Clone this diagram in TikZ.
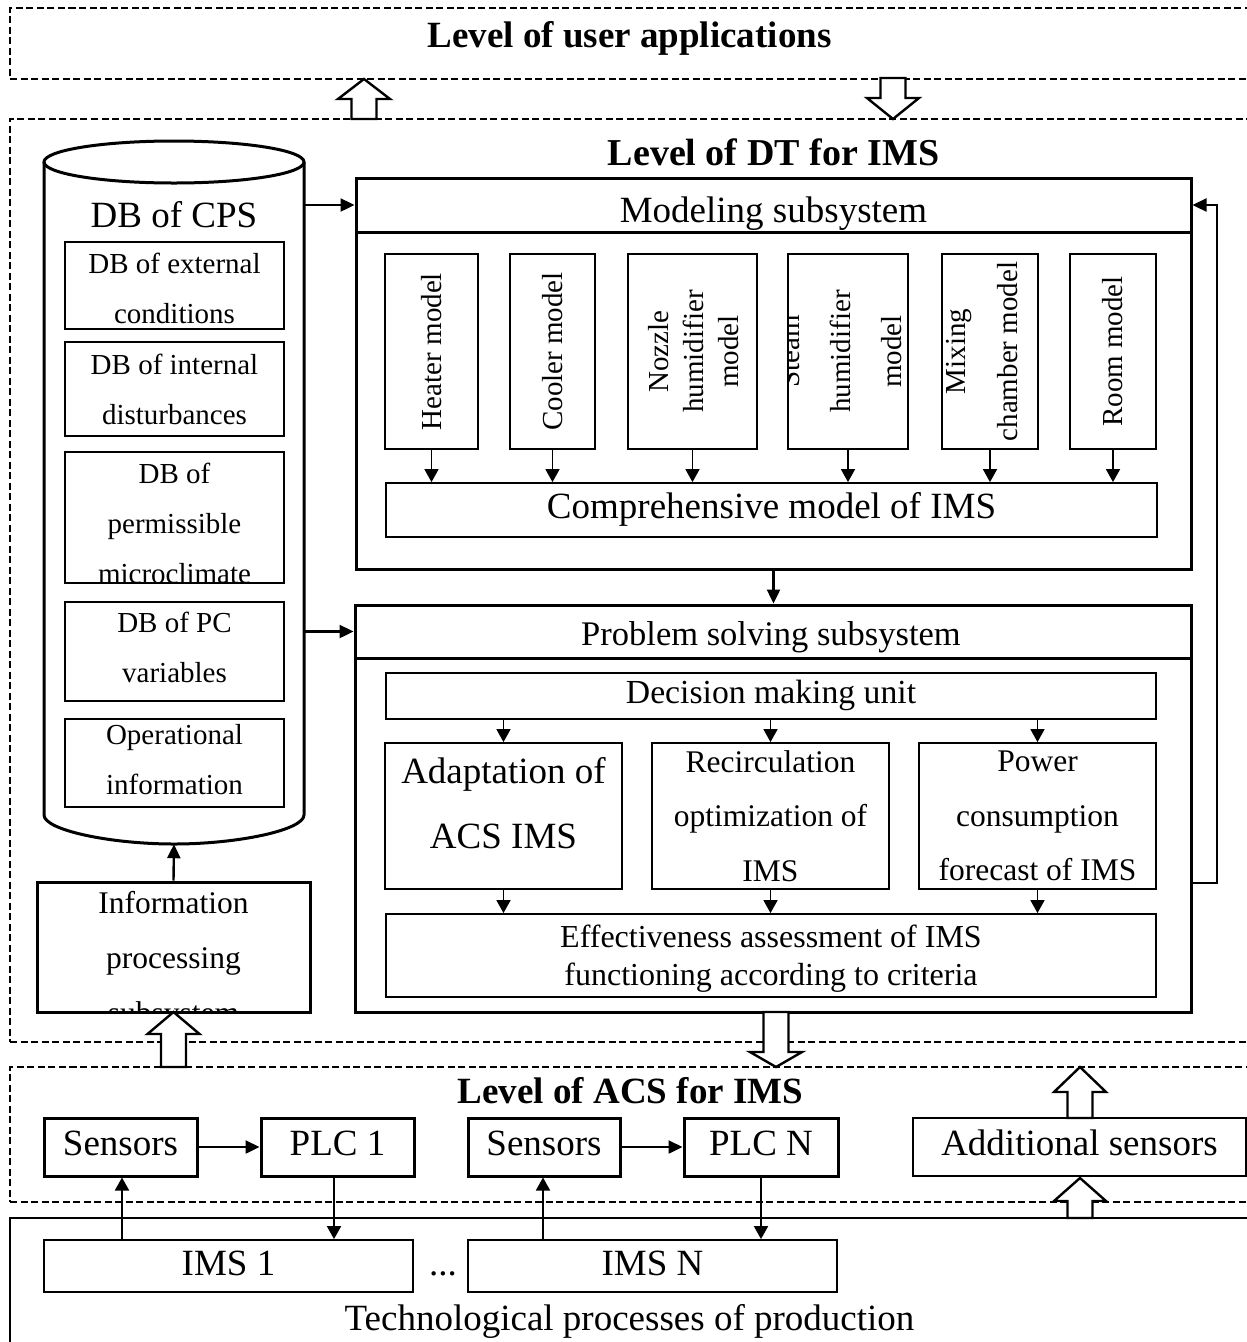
\documentclass[tikz,border=0pt]{standalone}
\usepackage{fontspec}
\setmainfont{Liberation Serif}
\usetikzlibrary{arrows.meta,calc,fit}
% hollow block arrow: x, shaft end, head base, tip
\newcommand\fatarrow[4]{%
  \draw[fat] (#1-12.5,#2) -- (#1-12.5,#3) -- (#1-26,#3) -- (#1,#4)
    -- (#1+26,#3) -- (#1+12.5,#3) -- (#1+12.5,#2) -- cycle;}
\begin{document}
\begin{tikzpicture}[x=1pt,y=-1pt,
  layer/.style={draw, line width=2.2pt, dash pattern=on 7pt off 3.5pt, inner sep=0pt},
  heavy/.style={draw, line width=3pt, inner sep=0pt},
  midbox/.style={draw, line width=2.4pt, inner sep=0pt},
  light/.style={draw, line width=1.8pt, inner sep=0pt},
  conn/.style={line width=2.4pt, -{Triangle[length=14pt,width=13pt]}},
  sconn/.style={line width=1.6pt, -{Triangle[length=13pt,width=14pt]}},
  fat/.style={draw, fill=white, line width=2.4pt, line join=miter},
  lvltitle/.style={font=\bfseries\fontsize{37}{44}\selectfont, anchor=base},
  tbig/.style={font=\fontsize{37}{44}\selectfont},
  tline/.style={font=\fontsize{37}{44}\selectfont, anchor=base},
  tdb/.style={font=\fontsize{29}{50}\selectfont, align=center},
  tmod/.style={font=\fontsize{29}{35}\selectfont, align=center, rotate=90},
  tps/.style={font=\fontsize{31.5}{54.5}\selectfont, align=center},
]
\useasboundingbox (0,0) rectangle (1247,1342);

% ---------- layer frames ----------
\node[layer, fit={(10,8)(1262,79)}] (ulevel) {};
\node[lvltitle] (ulevel-t) at (629.5,47) {Level of user applications};
\node[layer, fit={(10,119)(1262,1042)}] (dtlevel) {};
\node[lvltitle, font=\bfseries\fontsize{38}{44}\selectfont] (dtlevel-t) at (773.5,165) {Level of DT for IMS};
\node[layer, fit={(10,1067)(1262,1202)}] (acslevel) {};
\node[lvltitle] (acslevel-t) at (630.5,1103) {Level of ACS for IMS};
\node[draw, line width=2.6pt, inner sep=0pt, fit={(10,1218)(1262,1370)}] (tech) {};
\node[tline] (tech-t) at (629.5,1330) {Technological processes of production};

% ---------- database of the CPS ----------
\node[inner sep=0pt, fit={(44,141)(304,844)}] (cps) {};
\draw[line width=3pt] (44,162) -- (44,815) .. controls (44,830) and (110,844) .. (174,844)
  .. controls (238,844) and (304,830) .. (304,815) -- (304,162);
\draw[line width=3pt] (174,162) ellipse [x radius=130, y radius=21];
\node[tline] (cps-t) at (174,227) {DB of CPS};

\node[light, fit={(65,242)(284,329)}] (db1) {};
\node[tdb, yshift=-2.5pt] (db1-t) at (db1) {DB of external\\conditions};
\node[light, fit={(65,342)(284,436)}] (db2) {};
\node[tdb] (db2-t) at (db2) {DB of internal\\disturbances};
\node[light, fit={(65,452)(284,583)}] (db3) {};
\begin{scope}
  \clip (db3.north west) rectangle (db3.south east);
  \node[tdb, yshift=-5.6pt] (db3-t) at (db3) {DB of\\permissible\\microclimate};
\end{scope}
\node[light, fit={(65,602)(284,701)}] (db4) {};
\node[tdb, yshift=4pt] (db4-t) at (db4) {DB of PC\\variables};
\node[light, fit={(65,719)(284,807)}] (db5) {};
\node[tdb, yshift=3pt] (db5-t) at (db5) {Operational\\information};

% ---------- information processing ----------
\node[heavy, fit={(37,882)(310,1012)}] (info) {};
\begin{scope}
  \clip (info.north west) rectangle (info.south east);
  \node[font=\fontsize{31.5}{55}\selectfont, align=center, yshift=-13.7pt] (info-t) at (info)
    {Information\\processing\\subsystem};
\end{scope}

% ---------- modeling subsystem ----------
\node[heavy, fit={(356,178)(1191,569)}] (model) {};
\node[heavy, fit={(356,178)(1191,232)}] (mhead) {};
\node[tline] (mhead-t) at (773.5,222) {Modeling subsystem};

\node[light, fit={(385,254)(478,449)}] (heater) {};
\node[light, fit={(510,254)(595,449)}] (cooler) {};
\node[light, fit={(628,254)(757,449)}] (nozzle) {};
\node[light, fit={(788,254)(908,449)}] (steam) {};
\node[light, fit={(942,254)(1038,449)}] (mixing) {};
\node[light, fit={(1070,254)(1156,449)}] (room) {};
\node[tmod] (heater-t) at (heater) {Heater model};
\node[tmod] (cooler-t) at (cooler) {Cooler model};
\node[tmod] (nozzle-t) at ([xshift=1pt]nozzle.center) {Nozzle\\humidifier\\model};
\begin{scope}
  \clip (steam.north west) rectangle (steam.south east);
  \node[tmod, font=\fontsize{29}{51}\selectfont] (steam-t) at ([xshift=-7pt]steam.center)
    {Steam\\humidifier\\model};
\end{scope}
\node[tmod, font=\fontsize{29}{52}\selectfont] (mixing-t) at ([xshift=-8pt]mixing.center)
  {Mixing\\chamber model};
\node[tmod] (room-t) at (room) {Room model};

\node[light, fit={(386,483)(1157,537)}] (compr) {};
\node[tline] (compr-t) at ([yshift=-8pt]compr.center) {Comprehensive model of IMS};
\foreach \m in {heater,cooler,nozzle,steam,mixing,room}
  \draw[sconn] (\m.south) -- (\m.south |- compr.north);

% ---------- problem solving subsystem ----------
\node[heavy, fit={(355,605)(1191,1012)}] (prob) {};
\node[heavy, fit={(355,605)(1191,658)}] (phead) {};
\node[font=\fontsize{34.5}{41}\selectfont, anchor=base] (phead-t) at (771,645) {Problem solving subsystem};

\node[light, fit={(386,673)(1156,719)}] (decision) {};
\node[font=\fontsize{33.7}{40}\selectfont, anchor=base] (decision-t) at ([yshift=-7pt]decision.center) {Decision making unit};
\node[light, fit={(385,743)(622,889)}] (adapt) {};
\node[light, fit={(652,743)(889,889)}] (recirc) {};
\node[light, fit={(919,743)(1156,889)}] (power) {};
\node[font=\fontsize{37}{65}\selectfont, align=center, yshift=13.2pt] (adapt-t) at (adapt) {Adaptation of\\ACS IMS};
\node[tps] (recirc-t) at (recirc) {Recirculation\\optimization of\\IMS};
\node[tps] (power-t) at (power) {Power\\consumption\\forecast of IMS};
\node[light, fit={(386,914)(1156,997)}] (effect) {};
\node[font=\fontsize{32}{38}\selectfont, align=center, yshift=-3pt] (effect-t) at (effect)
  {Effectiveness assessment of IMS\\functioning according to criteria};
\foreach \m in {adapt,recirc,power}{
  \draw[sconn] (\m.north |- decision.south) -- (\m.north);
  \draw[sconn] (\m.south) -- (\m.south |- effect.north);
}

% ---------- links inside the DT level ----------
\draw[conn] (cps.east |- mhead.west) -- (mhead.west);
\draw[conn] (cps.east |- phead.west) -- (phead.west);
\draw[conn] (info.north) -- (cps.south);
\draw[conn] (model.south) -- (model.south |- prob.north);
\coordinate (fb) at (1217,883);
\draw[conn] (prob.east |- fb) -- (fb) |- (mhead.east);

% ---------- ACS level ----------
\node[heavy, fit={(44,1118)(197,1176)}] (sens1) {};
\node[heavy, fit={(261,1118)(414,1176)}] (plc1) {};
\node[heavy, fit={(468,1118)(620,1176)}] (sens2) {};
\node[heavy, fit={(684,1118)(838,1176)}] (plcn) {};
\node[midbox, fit={(913,1118)(1246,1176)}] (addsens) {};
\node[tline] (sens1-t) at ([yshift=-8pt]sens1.center) {Sensors};
\node[tline] (plc1-t) at ([yshift=-8pt]plc1.center) {PLC 1};
\node[tline] (sens2-t) at ([yshift=-8pt]sens2.center) {Sensors};
\node[tline] (plcn-t) at ([yshift=-8pt]plcn.center) {PLC N};
\node[tline] (addsens-t) at ([yshift=-8pt]addsens.center) {Additional sensors};

\node[light, fit={(44,1240)(413,1292)}] (ims1) {};
\node[light, fit={(468,1240)(837,1292)}] (imsn) {};
\node[tline] (ims1-t) at ([yshift=-9pt]ims1.center) {IMS 1};
\node[tline] (imsn-t) at ([yshift=-9pt]imsn.center) {IMS N};
\node[tline] (dots) at (443,1275) {...};

\draw[conn] (sens1.east) -- (plc1.west);
\draw[conn] (sens2.east) -- (plcn.west);
\draw[sconn, line width=1.8pt] ([xshift=1.5pt]sens1.south |- ims1.north) -- ([xshift=1.5pt]sens1.south);
\draw[sconn, line width=1.8pt] ([xshift=-3.5pt]plc1.south) -- ([xshift=-3.5pt]plc1.south |- ims1.north);
\draw[sconn, line width=1.8pt] ([xshift=-1pt]sens2.south |- imsn.north) -- ([xshift=-1pt]sens2.south);
\draw[sconn, line width=1.8pt] (plcn.south) -- (plcn.south |- imsn.north);

% ---------- block arrows between levels ----------
\fatarrow{364}{119}{99}{79}
\fatarrow{893}{78}{98}{119}
\fatarrow{173.5}{1067}{1034}{1012}
\fatarrow{776}{1012}{1052}{1067}
\fatarrow{1080}{1118}{1092}{1067}
\fatarrow{1080}{1218}{1201}{1178}
\end{tikzpicture}
\end{document}
